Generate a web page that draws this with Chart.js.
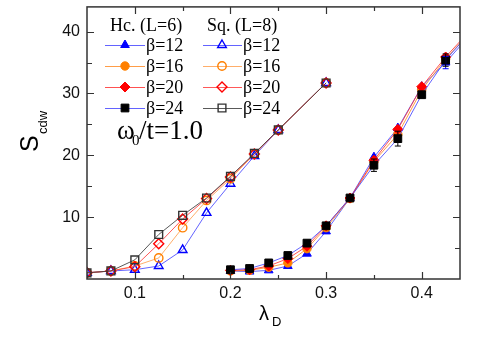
<!DOCTYPE html>
<html>
<head>
<meta charset="utf-8">
<script src="https://cdn.jsdelivr.net/npm/chart.js@4"></script>
<style>
  body { margin: 0; background: #fff; }
  #wrap { width: 485px; height: 346px; position: relative; }
</style>
</head>
<body>
<div id="wrap"><canvas id="chart"></canvas></div>
<script>
// ---- data ----
const xHc = [0.2, 0.22, 0.24, 0.26, 0.28, 0.3, 0.325, 0.35, 0.375, 0.4, 0.425, 0.45];
const hcB12 = [1.3, 1.2, 1.4, 2.1, 4.1, 7.7, 13.1, 19.7, 24.4, 31.1, 35.0, 39.4];
const hcB16 = [1.3, 1.4, 1.9, 2.6, 4.9, 8.3, 13.0, 19.0, 23.4, 30.6, 35.6, 39.8];
const hcB20 = [1.4, 1.5, 2.1, 3.3, 5.3, 8.6, 13.1, 19.2, 24.2, 31.1, 35.9, 40.1];
const hcB24 = [1.5, 1.7, 2.6, 3.8, 5.8, 8.6, 13.1, 18.4, 22.7, 29.8, 35.4, 39.8];
const hcB24Err = [0, 0, 0, 0, 0, 0.4, 0, 1.0, 1.2, 0.5, 1.0, 0];
const hcB12Err = [0, 0, 0, 0, 0, 0, 0, 0, 0, 0, 1.0, 0];

const xSq = [0.05, 0.075, 0.1, 0.125, 0.15, 0.175, 0.2, 0.225, 0.25, 0.3];
const sqB12 = [1.0, 1.3, 1.5, 2.1, 4.7, 10.7, 15.4, 19.9, 24.1, 31.7];
const sqB16 = [1.0, 1.3, 2.1, 3.4, 8.3, 12.7, 16.2, 20.2, 24.1, 31.7];
const sqB20 = [1.0, 1.3, 2.0, 5.7, 9.7, 13.0, 16.5, 20.2, 24.1, 31.7];
const sqB24 = [1.0, 1.3, 3.1, 7.2, 10.3, 13.1, 16.6, 20.3, 24.1, 31.7];

const betaLabels = ['\u03b2=12', '\u03b2=16', '\u03b2=20', '\u03b2=24'];
const xMajor = [0.1, 0.2, 0.3, 0.4];
const xMinor = [0.15, 0.25, 0.35];
const yMajor = [10, 20, 30, 40];
const yMinor = [5, 15, 25, 35];

const BLUE = '#0000ff', ORANGE = '#ff8000', RED = '#ff0000', BLACK = '#000000';

function pts(xs, ys) {
  return xs.map((x, i) => ({ x: x, y: ys[i] }));
}

// marker / line styles for the two lattices
const hcStyle = [
  { pointStyle: 'triangle', radius: 5, color: BLUE, line: 'rgba(60,60,255,0.8)' },
  { pointStyle: 'circle', radius: 4.2, color: ORANGE, line: 'rgba(255,140,40,0.85)' },
  { pointStyle: 'rectRot', radius: 5, color: RED, line: 'rgba(255,50,50,0.85)' },
  { pointStyle: 'rect', radius: 5.5, color: BLACK, line: 'rgba(60,60,255,0.8)' }
];
const sqStyle = [
  { pointStyle: 'triangle', radius: 5, color: BLUE, line: 'rgba(60,60,255,0.8)' },
  { pointStyle: 'circle', radius: 4.2, color: ORANGE, line: 'rgba(255,160,80,0.85)' },
  { pointStyle: 'rectRot', radius: 5, color: RED, line: 'rgba(255,60,60,0.85)' },
  { pointStyle: 'rect', radius: 5.5, color: '#333', line: 'rgba(60,60,60,0.85)' }
];

function makeSet(label, data, st, filled, order, errors) {
  return {
    label: label,
    data: data,
    borderColor: st.line,
    borderWidth: 1,
    pointStyle: st.pointStyle,
    pointRadius: st.radius,
    pointBorderColor: st.color,
    pointBackgroundColor: filled ? st.color : 'rgba(0,0,0,0)',
    pointBorderWidth: filled ? 1 : 1.4,
    tension: 0,
    order: order,
    errors: errors || null
  };
}

const hcSeries = [hcB12, hcB16, hcB20, hcB24];
const sqSeries = [sqB12, sqB16, sqB20, sqB24];
const hcErrs = [hcB12Err, null, null, hcB24Err];

const datasets = [];
sqSeries.forEach((ys, i) => datasets.push(makeSet('Sq ' + betaLabels[i], pts(xSq, ys), sqStyle[i], false, 8 - i)));
hcSeries.forEach((ys, i) => datasets.push(makeSet('Hc ' + betaLabels[i], pts(xHc, ys), hcStyle[i], true, 4 - i, hcErrs[i])));

function drawMarker(ctx, st, filled, x, y) {
  ctx.save();
  ctx.strokeStyle = st.color;
  ctx.fillStyle = filled ? st.color : 'rgba(0,0,0,0)';
  ctx.lineWidth = filled ? 1 : 1.4;
  Chart.helpers.drawPoint(ctx, { pointStyle: st.pointStyle, radius: st.radius, rotation: 0, borderWidth: ctx.lineWidth }, x, y);
  ctx.restore();
}

// frame, inward ticks on all four sides, error bars, legend and titles
const decor = {
  id: 'decor',
  afterDatasetsDraw(chart) {
    const ctx = chart.ctx;
    const xs = chart.scales.x, ys = chart.scales.y;
    ctx.save();
    chart.data.datasets.forEach(ds => {
      if (!ds.errors) return;
      ctx.strokeStyle = ds.pointBorderColor;
      ctx.lineWidth = 1;
      ds.data.forEach((p, i) => {
        const e = ds.errors[i];
        if (!e) return;
        const px = xs.getPixelForValue(p.x);
        const top = ys.getPixelForValue(p.y + e);
        const bot = ys.getPixelForValue(p.y - e);
        ctx.beginPath();
        ctx.moveTo(px, top); ctx.lineTo(px, bot);
        ctx.moveTo(px - 3, top); ctx.lineTo(px + 3, top);
        ctx.moveTo(px - 3, bot); ctx.lineTo(px + 3, bot);
        ctx.stroke();
      });
    });
    ctx.restore();
  },
  afterDraw(chart) {
    const ctx = chart.ctx;
    const a = chart.chartArea;
    const xs = chart.scales.x, ys = chart.scales.y;
    ctx.save();
    ctx.strokeStyle = '#333';
    ctx.lineWidth = 1.5;
    ctx.strokeRect(a.left, a.top, a.right - a.left, a.bottom - a.top);

    ctx.lineWidth = 1.2;
    ctx.beginPath();
    xMajor.concat(xMinor).forEach(v => {
      const px = Math.round(xs.getPixelForValue(v)) + 0.5;
      const len = xMajor.includes(v) ? 7 : 4;
      ctx.moveTo(px, a.bottom); ctx.lineTo(px, a.bottom - len);
      ctx.moveTo(px, a.top); ctx.lineTo(px, a.top + len);
    });
    yMajor.concat(yMinor).forEach(v => {
      const py = Math.round(ys.getPixelForValue(v)) + 0.5;
      const len = yMajor.includes(v) ? 7 : 5;
      ctx.moveTo(a.left, py); ctx.lineTo(a.left + len, py);
      ctx.moveTo(a.right, py); ctx.lineTo(a.right - len, py);
    });
    ctx.stroke();

    // legend
    ctx.fillStyle = '#000';
    ctx.font = '18px "Liberation Serif"';
    ctx.textBaseline = 'alphabetic';
    ctx.textAlign = 'left';
    ctx.fillText('Hc. (L=6)', 110, 31);
    ctx.fillText('Sq. (L=8)', 207, 31);
    const rowY = [45, 66, 87, 108];
    rowY.forEach((y, i) => {
      ctx.lineWidth = 1;
      ctx.strokeStyle = hcStyle[i].line;
      ctx.beginPath(); ctx.moveTo(105, y + 0.5); ctx.lineTo(145, y + 0.5); ctx.stroke();
      drawMarker(ctx, hcStyle[i], true, 125, y);
      ctx.strokeStyle = sqStyle[i].line;
      ctx.beginPath(); ctx.moveTo(203, y + 0.5); ctx.lineTo(242, y + 0.5); ctx.stroke();
      drawMarker(ctx, sqStyle[i], false, 222, y);
      ctx.fillStyle = '#000';
      ctx.fillText(betaLabels[i], 146, y + 6);
      ctx.fillText(betaLabels[i], 243, y + 6);
    });

    // omega_0 / t annotation
    ctx.font = '27px "Liberation Serif"';
    ctx.fillText('\u03c9', 117, 139);
    ctx.font = '15px "Liberation Serif"';
    ctx.fillText('0', 132, 145);
    ctx.font = '27px "Liberation Serif"';
    ctx.fillText('/t=1.0', 139, 139);

    // axis titles
    ctx.font = '20px "Liberation Sans"';
    ctx.fillText('\u03bb', 259, 320);
    ctx.font = '13px "Liberation Sans"';
    ctx.fillText('D', 272, 326);

    ctx.translate(38, 152);
    ctx.rotate(-Math.PI / 2);
    ctx.font = '25px "Liberation Sans"';
    ctx.fillText('S', 0, 0);
    ctx.font = '13px "Liberation Sans"';
    ctx.fillText('cdw', 18, 9);
    ctx.restore();
  }
};

new Chart(document.getElementById('chart'), {
  type: 'line',
  data: { datasets: datasets },
  options: {
    responsive: true,
    maintainAspectRatio: false,
    animation: false,
    layout: { padding: { top: 1, right: 25, left: 0, bottom: 0 } },
    plugins: { legend: { display: false }, tooltip: { enabled: false } },
    scales: {
      x: {
        type: 'linear',
        min: 0.05,
        max: 0.44,
        grid: { display: false, drawTicks: false },
        border: { display: false },
        afterBuildTicks: s => { s.ticks = xMajor.map(v => ({ value: v })); },
        afterFit: s => { s.height = 67; s.paddingLeft = 0; s.paddingRight = 0; },
        ticks: {
          padding: 5,
          color: '#111',
          font: { family: 'Liberation Sans', size: 16 },
          callback: v => v.toFixed(1)
        }
      },
      y: {
        type: 'linear',
        min: 0,
        max: 44,
        grid: { display: false, drawTicks: false },
        border: { display: false },
        afterBuildTicks: s => { s.ticks = yMajor.map(v => ({ value: v })); },
        afterFit: s => { s.width = 87; s.paddingTop = 0; s.paddingBottom = 0; },
        ticks: {
          padding: 7,
          color: '#111',
          font: { family: 'Liberation Sans', size: 16 },
          callback: v => String(v)
        }
      }
    }
  },
  plugins: [decor]
});
</script>
</body>
</html>
